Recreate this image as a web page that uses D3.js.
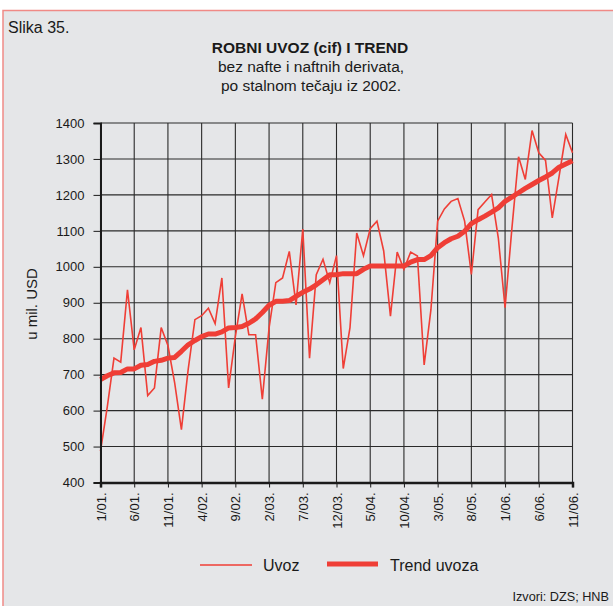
<!DOCTYPE html>
<html>
<head>
<meta charset="utf-8">
<script src="https://cdn.jsdelivr.net/npm/d3@7/dist/d3.min.js"></script>
<style>
 body { margin:0; padding:0; background:#fff; }
 svg text { font-family: "Liberation Sans", Arial, Helvetica, sans-serif; fill:#1a1a1a; }
</style>
</head>
<body>
<div id="chart"></div>
<script>
// mjesecni robni uvoz (mil. USD), 1/01. - 11/06.
var uvoz = [
 487, 610, 746, 735, 936, 769, 831, 642, 663, 831,
 781, 677, 547, 714, 853, 864, 885, 842, 969, 663,
 806, 925, 811, 811, 632, 830, 956, 969, 1043, 894,
 1105, 746, 978, 1021, 956, 1031, 717, 831, 1094, 1031,
 1106, 1127, 1044, 863, 1041, 993, 1041, 1030, 727, 880,
 1127, 1161, 1182, 1190, 1127, 979, 1159, 1180, 1201, 1080,
 886, 1104, 1306, 1243, 1379, 1317, 1296, 1136, 1250, 1368,
 1317
];
var trend = [
 686, 697, 705, 706, 716, 716, 726, 728, 737, 740,
 746, 748, 765, 783, 795, 806, 813, 813, 819, 830,
 831, 834, 843, 855, 873, 893, 904, 904, 906, 918,
 929, 938, 950, 964, 978, 978, 981, 981, 981, 993,
 1002, 1002, 1002, 1002, 1002, 1002, 1013, 1020, 1020, 1031,
 1053, 1067, 1078, 1085, 1099, 1120, 1131, 1141, 1152, 1164,
 1182, 1194, 1206, 1218, 1229, 1240, 1250, 1261, 1277, 1286,
 1295
];
var tickLabels = ["1/01.","6/01.","11/01.","4/02.","9/02.","2/03.","7/03.","12/03.",
                  "5/04.","10/04.","3/05.","8/05.","1/06.","6/06.","11/06."];
var yTicks = [400, 500, 600, 700, 800, 900, 1000, 1100, 1200, 1300, 1400];

var w = 613, h = 606;
var red = "#ef3e36";
var svg = d3.select("#chart").append("svg").attr("width", w).attr("height", h);

// pozadina i okvir
svg.append("rect").attr("x", 3).attr("y", 10.5).attr("width", w + 10).attr("height", h)
  .attr("fill", "#e5e6e8").attr("stroke", "#f08a86").attr("stroke-width", 1.5);

svg.append("text").attr("x", 8).attr("y", 33).attr("font-size", 16).text("Slika 35.");
svg.append("text").attr("x", 310).attr("y", 53).attr("font-size", 15.5).attr("font-weight", "bold")
  .attr("text-anchor", "middle").text("ROBNI UVOZ (cif) I TREND");
svg.append("text").attr("x", 311).attr("y", 72).attr("font-size", 15.5)
  .attr("text-anchor", "middle").text("bez nafte i naftnih derivata,");
svg.append("text").attr("x", 311).attr("y", 91).attr("font-size", 15.5)
  .attr("text-anchor", "middle").text("po stalnom tečaju iz 2002.");

var x = d3.scaleLinear().domain([0, uvoz.length - 1]).range([100.5, 572.5]);
var y = d3.scaleLinear().domain([400, 1400]).range([482.5, 123]);

var g = svg.append("g");

// mreza
g.selectAll("line.hgrid").data(yTicks).enter().append("line")
  .attr("x1", x(0)).attr("x2", x(70))
  .attr("y1", function(d){ return y(d); }).attr("y2", function(d){ return y(d); })
  .attr("stroke", "#2a2a2a").attr("stroke-width", 1.1);
g.selectAll("line.vgrid").data(tickLabels).enter().append("line")
  .attr("x1", function(d,i){ return x(i*5); }).attr("x2", function(d,i){ return x(i*5); })
  .attr("y1", y(1400)).attr("y2", y(400))
  .attr("stroke", "#2a2a2a").attr("stroke-width", 1.1);

// y os
var yAxis = d3.axisLeft(y).tickValues(yTicks).tickSize(7).tickPadding(9).tickFormat(d3.format("d"));
var ya = svg.append("g").attr("transform", "translate(" + x(0) + ",0)").call(yAxis);
ya.select(".domain").attr("stroke", "#1a1a1a").attr("stroke-width", 2);
ya.selectAll(".tick line").attr("stroke", "#1a1a1a");
ya.selectAll("text").attr("font-size", 13).attr("fill", "#1a1a1a")
  .attr("font-family", "'Liberation Sans', Arial, sans-serif");

// x os
var xAxis = d3.axisBottom(x).tickValues(d3.range(0, 71, 5)).tickSize(5)
  .tickFormat(function(d){ return tickLabels[d/5]; });
var xa = svg.append("g").attr("transform", "translate(0," + y(400) + ")").call(xAxis);
xa.select(".domain").attr("stroke", "#1a1a1a").attr("stroke-width", 2.5);
xa.selectAll(".tick line").attr("stroke", "#1a1a1a");
xa.selectAll("text").attr("font-size", 13).attr("fill", "#1a1a1a")
  .attr("font-family", "'Liberation Sans', Arial, sans-serif")
  .attr("text-anchor", "end").attr("transform", "rotate(-90)")
  .attr("x", -10).attr("y", 0).attr("dy", "0.35em");

svg.append("text").attr("transform", "translate(37,304) rotate(-90)")
  .attr("text-anchor", "middle").attr("font-size", 15).text("u mil. USD");

// linije
var line = d3.line().x(function(d,i){ return x(i); }).y(function(d){ return y(d); });
g.append("path").datum(trend).attr("d", line).attr("fill", "none")
  .attr("stroke", red).attr("stroke-width", 5).attr("stroke-linejoin", "round");
g.append("path").datum(uvoz).attr("d", line).attr("fill", "none")
  .attr("stroke", red).attr("stroke-width", 1.6).attr("stroke-linejoin", "miter");

// legenda
svg.append("line").attr("x1", 200).attr("x2", 252).attr("y1", 565).attr("y2", 565)
  .attr("stroke", red).attr("stroke-width", 1.6);
svg.append("text").attr("x", 263).attr("y", 571).attr("font-size", 16).text("Uvoz");
svg.append("line").attr("x1", 327).attr("x2", 378).attr("y1", 564).attr("y2", 564)
  .attr("stroke", red).attr("stroke-width", 5);
svg.append("text").attr("x", 390).attr("y", 571).attr("font-size", 16).text("Trend uvoza");

svg.append("text").attr("x", 609).attr("y", 601).attr("font-size", 12.7)
  .attr("text-anchor", "end").text("Izvori: DZS; HNB");
</script>
</body>
</html>
